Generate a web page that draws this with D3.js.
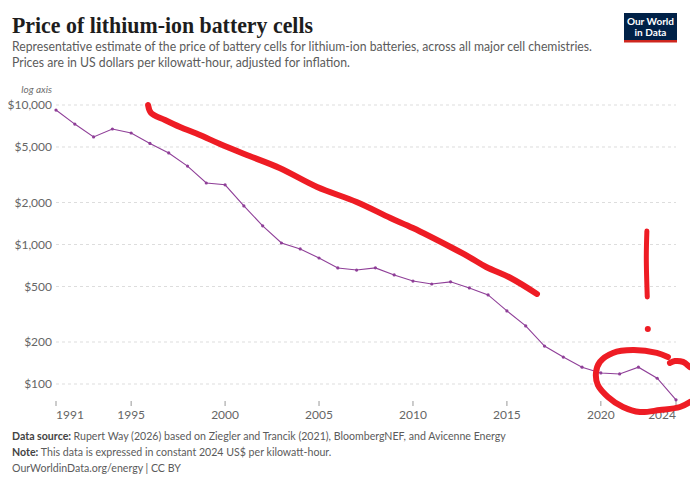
<!DOCTYPE html>
<html>
<head>
<meta charset="utf-8">
<script src="https://cdn.jsdelivr.net/npm/d3@7"></script>
<style>
  body { margin: 0; background: #fff; }
  text { font-family: Lato, "Noto Sans", sans-serif; }
</style>
</head>
<body>
<div id="chart"></div>
<script>
// data (constant 2024 US$ per kWh)
const years = [1991, 1992, 1993, 1994, 1995, 1996, 1997, 1998, 1999, 2000,
  2001, 2002, 2003, 2004, 2005, 2006, 2007, 2008, 2009, 2010,
  2011, 2012, 2013, 2014, 2015, 2016, 2017, 2018, 2019, 2020,
  2021, 2022, 2023, 2024];
const prices = [9200, 7300, 5900, 6730, 6300, 5300, 4530, 3650, 2760, 2680,
  1890, 1360, 1025, 929, 800, 679, 656, 680, 605, 547,
  521, 540, 488, 435, 334, 261, 187, 156, 132, 120,
  118, 132, 110, 77];

const yTicks = [100, 200, 500, 1000, 2000, 5000, 10000];
const xTicks = [1991, 1995, 2000, 2005, 2010, 2015, 2020, 2024];

// hand-drawn red marks, in [year, price] units
const scribbleLine = [[1995.9, 10000], [1996.06, 8765], [1996.8, 7806], [1997.6, 6956],
  [1998.66, 6094], [1999.73, 5252], [2001.3, 4306], [2002.9, 3533], [2004.9, 2582],
  [2007.0, 2017], [2008.8, 1549], [2010.0, 1313], [2012.0, 960], [2013.0, 813],
  [2013.9, 690], [2015.2, 575], [2016.6, 442]];
const scribbleBang = [[2022.45, 1250], [2022.42, 800], [2022.47, 421]];
const scribbleDot = [2022.5, 248];
const scribbleLoop = [[2023.57, 156], [2022.98, 167], [2021.71, 175], [2020.64, 167],
  [2019.95, 144], [2019.74, 120], [2019.84, 98.4], [2020.38, 80.8], [2021.18, 68.4],
  [2022.08, 63], [2023.14, 65.1], [2024.21, 68.4], [2024.74, 74.3]];
const scribbleHook = [[2023.68, 141.5], [2023.94, 146], [2024.37, 144], [2024.74, 132]];

const width = 690, height = 487;
const svg = d3.select("#chart").append("svg")
  .attr("width", width).attr("height", height);

// title block
svg.append("text")
  .attr("x", 12).attr("y", 33)
  .attr("textLength", 301).attr("lengthAdjust", "spacingAndGlyphs")
  .style("font-family", "'Liberation Serif', 'DejaVu Serif', serif")
  .style("font-size", "23px").style("font-weight", "bold").style("fill", "#1d1d1d")
  .text("Price of lithium-ion battery cells");

const sub = ["Representative estimate of the price of battery cells for lithium-ion batteries, across all major cell chemistries.",
  "Prices are in US dollars per kilowatt-hour, adjusted for inflation."];
const subLen = [580, 338];
sub.forEach((s, i) => {
  svg.append("text").attr("x", 12).attr("y", 51 + i * 16)
    .attr("textLength", subLen[i]).attr("lengthAdjust", "spacingAndGlyphs")
    .style("font-size", "12.8px").style("fill", "#5b5b5b").text(s);
});

// logo
const logo = svg.append("g").attr("transform", "translate(624,13)");
logo.append("rect").attr("width", 53).attr("height", 29).attr("fill", "#002147");
logo.append("rect").attr("y", 27).attr("width", 53).attr("height", 2.5).attr("fill", "#ce261e");
logo.append("text").attr("x", 26.5).attr("y", 12).attr("text-anchor", "middle")
  .style("font-size", "10px").style("font-weight", "bold").style("fill", "#fff").text("Our World");
logo.append("text").attr("x", 26.5).attr("y", 23).attr("text-anchor", "middle")
  .style("font-size", "10px").style("font-weight", "bold").style("fill", "#fff").text("in Data");

// scales
const x = d3.scaleLinear().domain([1991, 2024]).range([56, 676]);
const y = d3.scaleLog().domain([100, 10000]).range([384, 105]);

svg.append("text").attr("x", 52).attr("y", 93).attr("text-anchor", "end")
  .style("font-size", "10px").style("font-style", "italic").style("fill", "#6e6e6e")
  .text("log axis");

// y grid + labels
const yAxis = svg.append("g");
yTicks.forEach(t => {
  yAxis.append("line")
    .attr("x1", 56).attr("x2", 676).attr("y1", y(t)).attr("y2", y(t))
    .attr("stroke", "#dddddd").attr("stroke-dasharray", "3,3");
  yAxis.append("text")
    .attr("x", 52).attr("y", y(t)).attr("dy", "0.35em").attr("text-anchor", "end")
    .style("font-size", "12px").style("fill", "#666")
    .text("$" + d3.format(",")(t));
});

// x ticks + labels
const xAxis = svg.append("g");
xTicks.forEach((t, i) => {
  xAxis.append("line")
    .attr("x1", x(t)).attr("x2", x(t)).attr("y1", 401).attr("y2", 406)
    .attr("stroke", "#999");
  xAxis.append("text")
    .attr("x", x(t)).attr("y", 419)
    .attr("text-anchor", i === 0 ? "start" : (i === xTicks.length - 1 ? "end" : "middle"))
    .style("font-size", "12px").style("fill", "#666")
    .text(t);
});

// series
const series = years.map((yr, i) => [yr, prices[i]]);
const line = d3.line().x(d => x(d[0])).y(d => y(d[1]));
svg.append("path").datum(series)
  .attr("d", line).attr("fill", "none")
  .attr("stroke", "#8f3f98").attr("stroke-width", 1.1);
svg.selectAll("circle.pt").data(series).join("circle")
  .attr("class", "pt")
  .attr("cx", d => x(d[0])).attr("cy", d => y(d[1])).attr("r", 1.6)
  .attr("fill", "#8f3f98");

// footer
const foot = [["Data source: ", "Rupert Way (2026) based on Ziegler and Trancik (2021), BloombergNEF, and Avicenne Energy"],
  ["Note: ", "This data is expressed in constant 2024 US$ per kilowatt-hour."],
  ["", "OurWorldinData.org/energy | CC BY"]];
foot.forEach((f, i) => {
  const t = svg.append("text").attr("x", 12).attr("y", 440 + i * 16.2)
    .style("font-size", "10.6px").style("fill", "#5b5b5b");
  if (f[0]) t.append("tspan").style("font-weight", "bold").style("fill", "#444").text(f[0]);
  t.append("tspan").text(f[1]);
});

// red pen marks
const red = "#ee1c24";
const pen = d3.line().x(d => x(d[0])).y(d => y(d[1])).curve(d3.curveCatmullRom);
const marks = svg.append("g").attr("fill", "none").attr("stroke", red)
  .attr("stroke-linecap", "round").attr("stroke-linejoin", "round");
marks.append("path").attr("d", pen(scribbleLine)).attr("stroke-width", 6);
marks.append("path").attr("d", pen(scribbleBang)).attr("stroke-width", 5);
marks.append("path").attr("d", pen(scribbleLoop)).attr("stroke-width", 6);
marks.append("path").attr("d", pen(scribbleHook)).attr("stroke-width", 6);
svg.append("circle").attr("cx", x(scribbleDot[0])).attr("cy", y(scribbleDot[1]))
  .attr("r", 3).attr("fill", red);
</script>
</body>
</html>
